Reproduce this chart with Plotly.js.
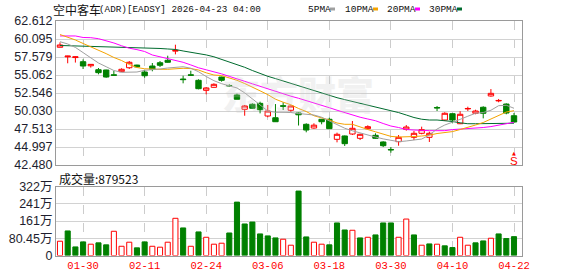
<!DOCTYPE html>
<html>
<head>
<meta charset="utf-8">
<script src="https://cdn.plot.ly/plotly-3.0.1.min.js"></script>
<style>html,body{margin:0;padding:0;background:#fff;}#chart{width:578px;height:276px;}</style>
</head>
<body>
<div id="chart"></div>
<script>
const dates = ['01-27','01-28','01-29','01-30','02-02','02-03','02-04','02-05','02-06','02-09','02-10','02-11','02-12','02-13','02-17','02-18','02-19','02-20','02-23','02-24','02-25','02-26','02-27','03-02','03-03','03-04','03-05','03-06','03-09','03-10','03-11','03-12','03-13','03-16','03-17','03-18','03-19','03-20','03-23','03-24','03-25','03-26','03-27','03-30','03-31','04-01','04-02','04-06','04-07','04-08','04-09','04-10','04-13','04-14','04-15','04-16','04-17','04-20','04-21','04-22'];

const open  = [58.94,57.60,57.50,56.92,56.35,55.80,55.76,55.08,55.53,56.08,56.45,55.48,56.32,56.78,57.12,58.40,54.50,55.08,54.32,52.92,53.34,54.78,53.60,52.27,50.27,50.97,51.10,49.33,49.09,50.76,50.13,49.75,48.17,47.65,48.87,48.87,46.07,46.54,46.81,46.21,47.56,46.63,45.70,44.65,45.74,47.47,46.35,46.91,46.35,50.52,48.77,49.65,48.25,50.32,49.71,50.55,52.13,51.44,51.00,49.37];
const high  = [59.63,57.75,57.65,57.25,56.60,56.04,55.80,55.62,56.00,57.02,56.50,55.80,56.74,57.02,57.76,59.30,54.96,55.66,54.46,53.38,53.90,54.82,53.76,52.45,50.87,51.10,51.33,50.87,51.00,51.24,50.80,49.80,48.31,48.31,48.90,49.09,47.00,46.60,48.63,46.85,48.03,46.91,45.80,44.99,46.67,48.07,47.23,47.84,47.14,50.73,49.85,49.70,50.00,50.63,50.21,50.69,53.10,51.71,51.10,49.75];
const low   = [58.93,56.70,56.80,55.90,56.10,55.16,54.68,55.00,55.50,55.90,56.15,54.68,55.58,56.18,56.78,57.95,53.90,55.00,53.06,52.36,53.30,54.13,53.38,51.67,49.37,50.31,49.70,49.15,48.50,50.17,49.93,48.00,47.05,47.55,48.17,47.50,45.65,45.14,46.67,45.97,47.47,46.14,44.99,44.20,45.18,47.28,45.97,46.77,45.70,50.03,48.63,48.31,48.20,50.03,49.57,49.00,52.03,51.25,49.57,48.40];
const close = [59.26,57.70,57.60,56.32,56.55,55.39,54.78,55.03,55.86,56.84,56.20,54.96,55.86,56.42,56.84,58.50,54.42,55.03,53.15,53.25,53.76,54.32,53.55,51.67,50.73,50.41,50.21,50.03,48.53,50.70,50.73,49.50,47.37,48.05,48.53,47.56,46.77,45.46,47.61,46.77,47.84,46.21,45.18,44.60,46.35,47.79,46.91,47.42,46.91,50.46,49.71,48.77,49.57,50.38,50.03,49.71,52.50,51.50,49.75,48.49];

const ma5  = [59.72,59.40,58.92,58.19,57.44,56.74,56.22,55.69,55.44,55.44,55.48,55.72,55.76,55.90,56.04,56.18,56.22,56.01,55.52,54.85,54.27,53.85,53.51,53.25,52.57,51.76,50.90,50.03,49.85,49.85,49.82,49.68,49.54,49.47,49.16,48.65,48.07,47.62,47.26,46.95,46.67,46.39,46.13,45.91,45.74,45.84,45.97,46.11,46.67,47.51,48.07,48.42,48.86,49.30,49.71,49.82,50.13,50.77,50.83,50.41];
const ma10 = [60.72,60.35,59.96,59.47,59.02,58.61,58.05,57.51,57.09,56.53,56.11,55.93,55.86,55.86,55.86,55.93,56.00,55.96,55.76,55.37,55.06,54.98,54.67,54.32,53.87,53.40,52.85,52.32,51.68,51.26,50.90,50.38,49.96,49.37,49.12,48.77,48.35,48.17,48.17,47.86,47.44,47.12,46.79,46.48,46.39,46.39,46.46,46.53,46.65,46.88,47.02,47.15,47.44,47.72,48.07,48.42,48.91,49.40,49.89,50.07];
const ma20 = [60.52,60.52,60.52,60.31,60.28,60.14,59.89,59.54,59.15,58.81,58.61,58.35,57.86,57.62,57.37,57.12,56.84,56.47,56.07,55.79,55.55,55.22,54.87,54.56,54.18,53.83,53.47,53.11,52.71,52.41,52.10,51.81,51.50,51.15,50.80,50.49,50.14,49.81,49.43,49.16,48.91,48.67,48.28,47.93,47.72,47.44,47.37,47.30,47.28,47.28,47.28,47.43,47.49,47.54,47.62,47.72,47.85,48.04,48.28,48.45];
const ma30 = [59.19,59.16,59.15,59.12,59.12,59.09,59.05,59.02,59.02,58.99,58.95,58.91,58.84,58.77,58.70,58.63,58.42,58.26,58.08,57.87,57.61,57.26,56.92,56.57,56.14,55.69,55.26,54.88,54.56,54.22,53.90,53.50,53.18,52.85,52.50,52.20,51.89,51.62,51.36,51.12,50.90,50.63,50.35,50.10,49.81,49.47,49.12,48.88,48.77,48.77,48.70,48.56,48.38,48.25,48.25,48.25,48.25,48.25,48.28,48.32];

const volume = [666000,1146000,400000,635000,527000,589000,496000,1130000,430000,620000,356000,635000,430000,387000,620000,1735000,1286000,430000,1100000,850000,527000,573000,1050000,2490000,1470000,1560000,1007000,914000,820000,759000,480000,3005000,867000,620000,527000,496000,1518000,1190000,1177000,820000,850000,960000,1518000,1518000,850000,1700000,960000,480000,540000,527000,450000,370000,850000,480000,589000,680000,805000,1007000,790000,879523];

const priceTicks = [42.480,44.997,47.513,50.030,52.546,55.062,57.579,60.095,62.612];
const priceTickText = ['42.480','44.997','47.513','50.030','52.546','55.062','57.579','60.095','62.612'];
const volTicks = [0,804500,1609000,2413500,3218000];
const volTickText = ['0','80.45万','161万','241万','322万'];
const dateTicks = ['01-30','02-11','02-24','03-06','03-18','03-30','04-10','04-22'];
const lastVolume = '879523';

const RED = '#ff0000', GREEN = '#008000';
const volFill = [], volLine = [];
for (let i = 0; i < close.length; i++) {
  const up = i === 0 ? close[i] >= open[i] : close[i] >= close[i-1];
  volFill.push(up ? '#ffffff' : GREEN);
  volLine.push(up ? RED : GREEN);
}

const traces = [
  {type:'candlestick', x:dates, open:open, high:high, low:low, close:close,
   xaxis:'x', yaxis:'y', whiskerwidth:0,
   increasing:{line:{color:RED,width:1}, fillcolor:'#ffffff'},
   decreasing:{line:{color:GREEN,width:1}, fillcolor:GREEN},
   hoverinfo:'skip'},
  {type:'scatter', mode:'lines', x:dates, y:ma30, xaxis:'x', yaxis:'y', line:{color:'#006b2e',width:1}, hoverinfo:'skip'},
  {type:'scatter', mode:'lines', x:dates, y:ma20, xaxis:'x', yaxis:'y', line:{color:'#ff00ff',width:1}, hoverinfo:'skip'},
  {type:'scatter', mode:'lines', x:dates, y:ma10, xaxis:'x', yaxis:'y', line:{color:'#f5a300',width:1}, hoverinfo:'skip'},
  {type:'scatter', mode:'lines', x:dates, y:ma5, xaxis:'x', yaxis:'y', line:{color:'#a0a0a0',width:1}, hoverinfo:'skip'},
  {type:'bar', x:dates, y:volume, xaxis:'x2', yaxis:'y2', width:0.66,
   marker:{color:volFill, line:{color:volLine, width:1}}, hoverinfo:'skip'}
];

const W = 578, H = 276;
const px = v => v / W, py = v => (H - v) / H;
const axisFont = {family:'Liberation Sans, Arial, Noto Sans CJK SC', size:12.5, color:'#1e1e2e'};

const layout = {
  width:W, height:H, margin:{l:0,r:0,t:0,b:0},
  paper_bgcolor:'#ffffff', plot_bgcolor:'#ffffff', showlegend:false,
  boxgap:0.3, boxgroupgap:0,
  xaxis:{type:'category', domain:[px(56),px(522)], range:[-0.52,60.04], anchor:'y',
    tickvals:dateTicks, showticklabels:false, ticks:'', showgrid:true, gridcolor:'#cccccc', griddash:'dash', gridwidth:1,
    showline:true, mirror:true, linecolor:'#9a9a9a', linewidth:1, zeroline:false, rangeslider:{visible:false}, fixedrange:true},
  xaxis2:{type:'category', domain:[px(56),px(522)], range:[-0.52,60.04], anchor:'y2', matches:'x',
    tickvals:dateTicks, showticklabels:true, ticks:'', showgrid:true, gridcolor:'#cccccc', griddash:'dash', gridwidth:1,
    tickfont:{family:'Liberation Mono, monospace', size:10.5, color:RED},
    showline:true, mirror:true, linecolor:'#9a9a9a', linewidth:1, zeroline:false, fixedrange:true},
  yaxis:{domain:[py(165),py(21)], range:[42.48,62.612], anchor:'x', tickvals:priceTicks, ticktext:priceTickText,
    showgrid:true, gridcolor:'#d2d2d2', gridwidth:1, ticks:'', tickfont:axisFont,
    showline:true, mirror:true, linecolor:'#9a9a9a', zeroline:false, fixedrange:true},
  yaxis2:{domain:[py(255.5),py(186.5)], range:[0,3218000], anchor:'x2', tickvals:volTicks, ticktext:volTickText,
    showgrid:true, gridcolor:'#d2d2d2', gridwidth:1, ticks:'', tickfont:axisFont,
    showline:true, mirror:true, linecolor:'#9a9a9a', zeroline:false, fixedrange:true},
  annotations:[
    {xref:'paper', yref:'paper', x:px(50.5), y:py(9), xanchor:'left', yanchor:'middle', showarrow:false,
     text:'空中客车', font:{family:'Noto Sans CJK SC', size:12, color:'#111'}},
    {xref:'paper', yref:'paper', x:px(96.5), y:py(9), xanchor:'left', yanchor:'middle', showarrow:false,
     text:'(ADR)[EADSY] 2026-04-23 04:00', font:{family:'Liberation Mono, monospace', size:9.3, color:'#111'}},
    {xref:'paper', yref:'paper', x:px(305.5), y:py(9), xanchor:'left', yanchor:'middle', showarrow:false,
     text:'5PMA', font:{family:'Liberation Mono, monospace', size:9.5, color:'#111'}},
    {xref:'paper', yref:'paper', x:px(342.5), y:py(9), xanchor:'left', yanchor:'middle', showarrow:false,
     text:'10PMA', font:{family:'Liberation Mono, monospace', size:9.5, color:'#111'}},
    {xref:'paper', yref:'paper', x:px(384.5), y:py(9), xanchor:'left', yanchor:'middle', showarrow:false,
     text:'20PMA', font:{family:'Liberation Mono, monospace', size:9.5, color:'#111'}},
    {xref:'paper', yref:'paper', x:px(426.5), y:py(9), xanchor:'left', yanchor:'middle', showarrow:false,
     text:'30PMA', font:{family:'Liberation Mono, monospace', size:9.5, color:'#111'}},
    {xref:'paper', yref:'paper', x:px(57), y:py(178), xanchor:'left', yanchor:'middle', showarrow:false,
     text:'成交量:' + lastVolume, font:{family:'Noto Sans CJK SC', size:12, color:'#111'}},
    {xref:'paper', yref:'paper', x:px(298), y:py(92), xanchor:'center', yanchor:'middle', showarrow:false,
     text:'东方财富', opacity:0.25, font:{family:'Noto Sans CJK SC', size:38, color:'#c8c8c8', weight:900}},
    {xref:'paper', yref:'paper', x:px(514.3), y:py(152.5), xanchor:'center', yanchor:'middle', showarrow:false,
     text:'▲', font:{family:'DejaVu Sans', size:5, color:RED}},
    {xref:'paper', yref:'paper', x:px(514.3), y:py(160.5), xanchor:'center', yanchor:'middle', showarrow:false,
     text:'S', font:{family:'Liberation Sans', size:11.5, color:RED}}
  ],
  shapes:[
    {type:'rect', xref:'paper', yref:'paper', x0:px(330), x1:px(335), y0:py(10.5), y1:py(7.5), fillcolor:'#a0a0a0', line:{width:0}},
    {type:'rect', xref:'paper', yref:'paper', x0:px(373), x1:px(378), y0:py(10.5), y1:py(7.5), fillcolor:'#f5a300', line:{width:0}},
    {type:'rect', xref:'paper', yref:'paper', x0:px(415), x1:px(420), y0:py(10.5), y1:py(7.5), fillcolor:'#ff00ff', line:{width:0}},
    {type:'rect', xref:'paper', yref:'paper', x0:px(457), x1:px(462), y0:py(10.5), y1:py(7.5), fillcolor:'#006b2e', line:{width:0}}
  ]
};

Plotly.newPlot('chart', traces, layout, {staticPlot:true, displayModeBar:false});
</script>
</body>
</html>
